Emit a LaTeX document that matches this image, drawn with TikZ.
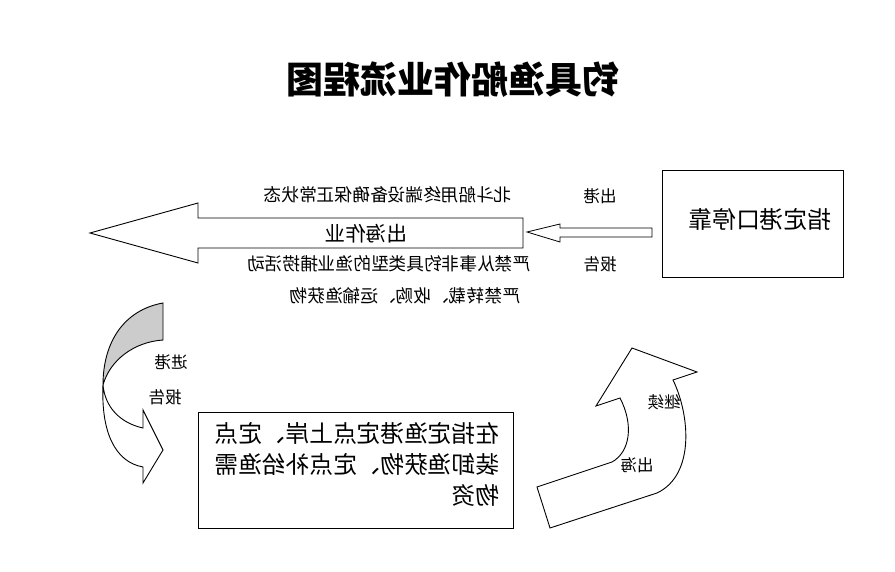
\documentclass[tikz,border=0pt]{standalone}
\usepackage{fontspec}
\setmainfont{Noto Sans CJK SC}
\usepackage{xcolor}
\usepackage{tikz}

\definecolor{crescent}{RGB}{204,204,204}
\tikzset{
  mir/.style={xscale=-1, inner sep=0pt},
  block/.style={draw, line width=0.9pt, fill=white, line join=miter},
}
\newcommand{\fsz}[2]{\fontsize{#1}{#2}\selectfont}

\begin{document}
\begin{tikzpicture}[x=1pt,y=-1pt]
            \useasboundingbox (0,0) rectangle (895,572);
            % Title (the whole sheet reads mirrored)
            \node[mir, font=\fsz{37}{40}\bfseries] (title) at (453,80) {钓具渔船作业流程图};
            % Port box
            \draw[block] (662,170) rectangle (843,277);
            \node[mir, font=\fsz{23.7}{28}] (port) at (760,219) {指定港口停靠};
            % Thin arrow from port to sea
            \draw[block, line width=0.8pt] (652,228) -- (560,228) -- (560,224) -- (527,232)
                -- (560,242) -- (560,237) -- (652,237) -- cycle;
            \node[mir, font=\fsz{16.5}{20}] (outport) at (600,196) {出港};
            \node[mir, font=\fsz{16.5}{20}] (rep1) at (600,264) {报告};
            % Big arrow: fishing at sea
            \draw[block] (523,218) -- (198,218) -- (198,203) -- (90,233) -- (198,263)
                -- (198,248) -- (523,248) -- cycle;
            \node[mir, font=\fsz{20.5}{24}] (sea) at (366,234) {出海作业};
            \node[mir, font=\fsz{17.7}{21}] (beidou) at (388,195) {北斗船用终端设备确保正常状态};
            \node[mir, font=\fsz{17.7}{21}] (ban1) at (389,264) {严禁从事非钓具类型的渔业捕捞活动};
            \node[mir, font=\fsz{17.7}{21}] (ban2) at (405,296) {严禁转载、收购、运输渔获物};
            % Curved arrow back to port (white part, then grey part)
            \draw[block] (103,385) .. controls (101,432) and (115,462) .. (143,467)
                -- (143,483) -- (163,450) -- (143,410) -- (143,428)
                .. controls (120,423) and (105,407) .. (103,385);
            \draw[block, fill=crescent] (163,303) .. controls (124,310) and (103,342) .. (103,385)
                .. controls (110,360) and (134,342) .. (163,340) -- cycle;
            \node[mir, font=\fsz{16.5}{20}] (inport) at (171,362) {进港};
            \node[mir, font=\fsz{16.5}{20}] (rep2) at (165,397) {报告};
            % Landing box
            \draw[block] (198,412) rectangle (513,528);
            \node[mir, align=left, font=\fsz{23.7}{31}] (land) at (357,464)
                {在指定渔港定点上岸、定点\\装卸渔获物、定点补给渔需\\物资};
            % Curved arrow out to sea again
            \draw[block] (537,487) -- (612,462) .. controls (630,452) and (634,425) .. (620,398)
                -- (596,406) -- (632,348) -- (697,372) -- (673,380)
                .. controls (690,415) and (695,475) .. (657,493) -- (550,528) -- cycle;
            \node[mir, font=\fsz{16.5}{20}] (cont) at (664,402) {继续};
            \node[mir, font=\fsz{16.5}{20}] (again) at (637,465) {出海};
        \end{tikzpicture}
\end{document}
